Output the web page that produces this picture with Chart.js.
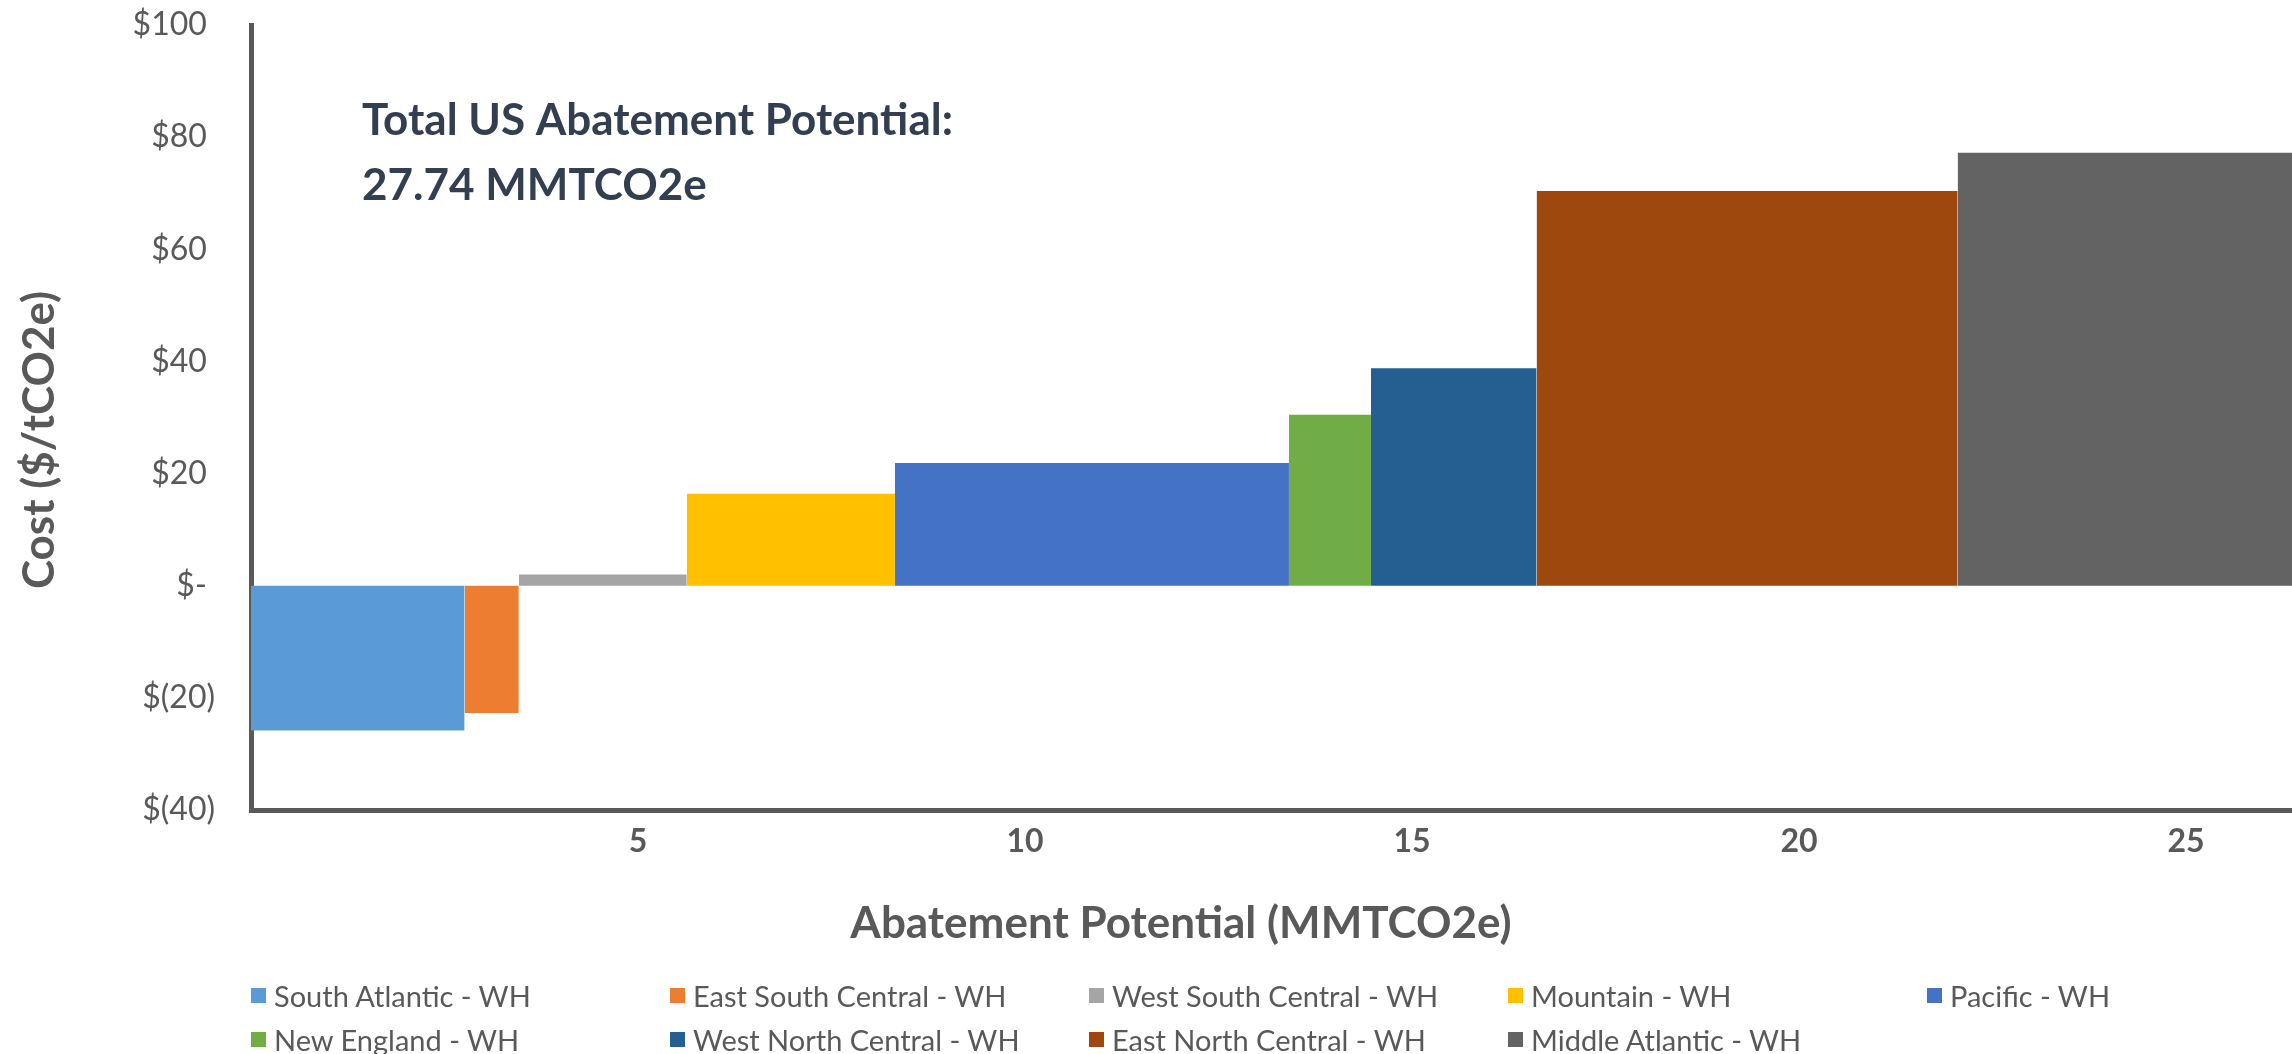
<!DOCTYPE html>
<html>
<head>
<meta charset="utf-8">
<title>Abatement Cost Curve – Water Heating</title>
<script src="https://cdn.jsdelivr.net/npm/chart.js@4.4.1/dist/chart.umd.min.js"></script>
<style>
  html, body { margin: 0; padding: 0; background: #ffffff; overflow: hidden; }
  #wrap { position: relative; width: 2292px; height: 1054px; }
  #macc { position: absolute; left: 0; top: 0; }
  #legend {
    position: absolute; left: 251px; top: 973px;
    display: grid; grid-template-columns: repeat(5, 419px); grid-auto-rows: 44px;
    font-family: Lato, "Open Sans", sans-serif; font-size: 29px; color: #595959;
  }
  .item { display: flex; align-items: center; white-space: nowrap; }
  .swatch { width: 15px; height: 15px; margin-right: 8px; flex: none; }
</style>
</head>
<body>
<div id="wrap">
  <canvas id="macc" width="2292" height="1054"></canvas>
  <div id="legend"></div>
</div>
<script>
// Regional water-heating abatement measures, in merit order
const regions = [
  'South Atlantic - WH', 'East South Central - WH', 'West South Central - WH',
  'Mountain - WH', 'Pacific - WH', 'New England - WH',
  'West North Central - WH', 'East North Central - WH', 'Middle Atlantic - WH'
];
// Abatement potential of each region (MMTCO2e) – bar widths
const potentials = [2.76, 0.70, 2.17, 2.69, 5.09, 1.06, 2.14, 5.44, 5.69];
// Cost of abatement ($/tCO2e) – bar heights
const costs = [-25.8, -22.7, 2.0, 16.4, 21.9, 30.5, 38.8, 70.4, 77.2];
const colors = [
  '#5B9BD5', '#ED7D31', '#A5A5A5', '#FFC000', '#4472C4',
  '#70AD47', '#255E91', '#9E480E', '#636363'
];
const potentialTicks = [5, 10, 15, 20, 25];

const FONT = 'Lato, "Open Sans", sans-serif';
const GREY = '#595959';

// Each region becomes a filled step from its cumulative start to end
let cum = 0;
const datasets = regions.map((name, i) => {
  const x0 = cum;
  cum += potentials[i];
  return {
    label: name,
    data: [{ x: x0, y: costs[i] }, { x: cum, y: costs[i] }],
    showLine: true,
    fill: 'origin',
    backgroundColor: colors[i],
    borderColor: colors[i],
    borderWidth: 0,
    pointRadius: 0,
    pointHoverRadius: 0
  };
});
const total = potentials.reduce((a, b) => a + b, 0);

const costLabel = v => v === 0 ? '$- ' : (v < 0 ? '$(' + (-v) + ')' : '$' + v + ' ');

// Axis titles and the total-potential note
const captions = {
  id: 'captions',
  afterDraw(chart) {
    const { ctx, chartArea } = chart;
    ctx.save();
    ctx.textBaseline = 'middle';

    ctx.font = 'bold 44px ' + FONT;
    ctx.fillStyle = '#333F50';
    ctx.textAlign = 'left';
    const x = chartArea.left + 111;
    ctx.fillText('Total US Abatement Potential:', x, chartArea.top + 96);
    ctx.fillText(total.toFixed(2) + ' MMTCO2e', x, chartArea.top + 161);

    ctx.fillStyle = GREY;
    ctx.textAlign = 'center';
    ctx.font = 'bold 44px ' + FONT;
    ctx.fillText('Abatement Potential (MMTCO2e)', chartArea.left + 930, chartArea.bottom + 114);

    ctx.translate(40, chartArea.top + 415);
    ctx.rotate(-Math.PI / 2);
    ctx.fillText('Cost ($/tCO2e)', 0, 0);
    ctx.restore();
  }
};

new Chart(document.getElementById('macc'), {
  type: 'scatter',
  data: { datasets },
  options: {
    responsive: false,
    devicePixelRatio: 1,
    animation: false,
    layout: { padding: { top: 25, right: 0, bottom: 0, left: 0 } },
    plugins: {
      legend: { display: false },
      tooltip: { enabled: false }
    },
    scales: {
      x: {
        type: 'linear',
        min: 0,
        max: 26.37,
        afterBuildTicks: s => { s.ticks = potentialTicks.map(v => ({ value: v })); },
        afterFit: s => { s.height = 244; s.paddingLeft = 0; s.paddingRight = 0; },
        grid: { display: false, drawTicks: false },
        border: { display: true, color: GREY, width: 5 },
        ticks: {
          color: GREY, padding: 12,
          font: { family: FONT, size: 32, weight: 'bold' },
          maxRotation: 0
        }
      },
      y: {
        min: -40,
        max: 100,
        afterFit: s => { s.width = 251; s.paddingTop = 0; s.paddingBottom = 0; },
        grid: { display: false, drawTicks: false },
        border: { display: true, color: GREY, width: 5 },
        ticks: {
          stepSize: 20, color: GREY, padding: 36,
          font: { family: FONT, size: 32 },
          callback: costLabel
        }
      }
    }
  },
  plugins: [captions]
});

// Legend grid under the chart
const legend = document.getElementById('legend');
regions.forEach((name, i) => {
  const item = document.createElement('div');
  item.className = 'item';
  const sw = document.createElement('span');
  sw.className = 'swatch';
  sw.style.background = colors[i];
  const tx = document.createElement('span');
  tx.textContent = name;
  item.appendChild(sw);
  item.appendChild(tx);
  legend.appendChild(item);
});
</script>
</body>
</html>
